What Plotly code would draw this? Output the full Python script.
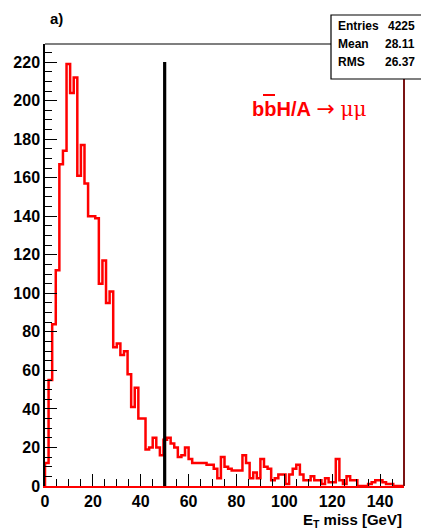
import numpy as np
import plotly.graph_objects as go

# ---- data -------------------------------------------------------------
bin_width = 1.5
x_min, x_max = 0.0, 150.0
counts = [
    12, 55, 84, 112, 167, 174, 219, 204, 212, 161,
    177, 157, 140, 140, 139, 105, 117, 95, 101, 72,
    74, 68, 70, 58, 41, 51, 35, 35, 19, 20,
    25, 20, 16, 24, 25, 22, 20, 15, 16, 20,
    14, 12, 12, 12, 12, 11, 11, 9, 4, 15,
    10, 9, 8, 8, 8, 16, 12, 4, 7, 4,
    14, 10, 9, 3, 4, 6, 6, 1, 6, 9,
    11, 6, 3, 3, 5, 3, 3, 1, 4, 2,
    2, 14, 3, 1, 5, 3, 3, 0, 0, 0,
    1, 2, 3, 3, 2, 1, 1, 0, 0, 0,
]
cut_value = 50.0
cut_top = 220.0
stat_labels = ["Entries", "Mean", "RMS"]
stat_values = ["4225", "28.11", "26.37"]
x_ticks = [0, 20, 40, 60, 80, 100, 120, 140]
y_ticks = list(range(0, 221, 20))

# ---- build step outline -------------------------------------------------
edges = x_min + bin_width * np.arange(len(counts) + 1)
xs = [edges[0]] + list(edges)
ys = [0] + list(counts) + [counts[-1]]

W, H = 421, 529
ml, mr, mt, mb = 45, 17, 44, 43
pw, ph = W - ml - mr, H - mt - mb


def px_x(p):
    return (p - ml) / pw


def px_y(p):
    return (H - mb - p) / ph


fig = go.Figure()
fig.add_trace(go.Scatter(
    x=xs, y=ys, mode="lines", line=dict(color="#ff0000", width=2.5, shape="hv"),
    hoverinfo="skip", showlegend=False,
))

tickfont = dict(family="Liberation Sans", size=16, color="black", weight="bold")
fig.update_layout(
    width=W, height=H, autosize=False,
    margin=dict(l=ml, r=mr, t=mt, b=mb, pad=0),
    paper_bgcolor="white", plot_bgcolor="white",
    xaxis=dict(
        range=[x_min, x_max], tickvals=x_ticks, ticks="inside", ticklen=12,
        tickwidth=1.2, tickcolor="black", showgrid=False, zeroline=False,
        showline=True, linecolor="#ff0000", linewidth=2, tickfont=tickfont,
        minor=dict(dtick=5, tick0=0, ticks="inside", ticklen=7, tickwidth=1.2,
                   tickcolor="black", showgrid=False),
    ),
    yaxis=dict(
        range=[0, 229.4], tickvals=y_ticks, ticks="inside", ticklen=12,
        tickwidth=1.2, tickcolor="black", showgrid=False, zeroline=False,
        showline=True, linecolor="black", linewidth=1.5, tickfont=tickfont,
        minor=dict(dtick=5, tick0=0, ticks="inside", ticklen=7, tickwidth=1.2,
                   tickcolor="black", showgrid=False),
    ),
)

shapes = [
    # top frame
    dict(type="line", xref="paper", yref="paper", x0=0, x1=1, y0=1, y1=1,
         line=dict(color="black", width=1.2)),
    # right frame (dark red)
    dict(type="line", xref="paper", yref="paper", x0=1, x1=1, y0=0, y1=1,
         line=dict(color="#7a1414", width=2)),
    # cut line
    dict(type="line", xref="x", yref="y", x0=cut_value, x1=cut_value, y0=0, y1=cut_top,
         line=dict(color="black", width=3.2)),
    # stat box
    dict(type="rect", xref="paper", yref="paper",
         x0=px_x(331), x1=px_x(424), y0=px_y(79), y1=px_y(15),
         fillcolor="white", line=dict(color="black", width=1.2), layer="above"),
    # bar over the second b
    dict(type="line", xref="paper", yref="paper",
         x0=px_x(263), x1=px_x(275), y0=px_y(95), y1=px_y(95),
         line=dict(color="#ff0000", width=2)),
]
fig.update_layout(shapes=shapes)

ann = []
row_y = [26, 44, 62]
for lab, val, ry in zip(stat_labels, stat_values, row_y):
    ann.append(dict(xref="paper", yref="paper", x=px_x(336), y=px_y(ry), text=lab,
                    showarrow=False, xanchor="left", yanchor="middle",
                    font=dict(family="Liberation Sans", size=12, color="black", weight="bold")))
    ann.append(dict(xref="paper", yref="paper", x=px_x(417), y=px_y(ry), text=val,
                    showarrow=False, xanchor="right", yanchor="middle",
                    font=dict(family="Liberation Sans", size=12, color="black", weight="bold")))

ann.append(dict(xref="paper", yref="paper", x=px_x(48), y=px_y(19), text="a)",
                showarrow=False, xanchor="left", yanchor="middle",
                font=dict(family="Liberation Sans", size=15, color="black", weight="bold")))

ann.append(dict(xref="paper", yref="paper", x=px_x(404), y=px_y(520),
                text="E<sub>T</sub> miss [GeV]", showarrow=False,
                xanchor="right", yanchor="middle",
                font=dict(family="Liberation Sans", size=15, color="black", weight="bold")))

ann.append(dict(xref="paper", yref="paper", x=px_x(250), y=px_y(108),
                text="<b>bbH/A</b> <span style='font-family:DejaVu Sans;font-size:22px'>\u2192</span> "
                     "<span style='font-family:DejaVu Serif'>\u03bc\u03bc</span>",
                showarrow=False,
                xanchor="left", yanchor="middle",
                font=dict(family="Liberation Sans", size=20, color="#ff0000")))
fig.update_layout(annotations=ann)

fig.write_html("out.html")
